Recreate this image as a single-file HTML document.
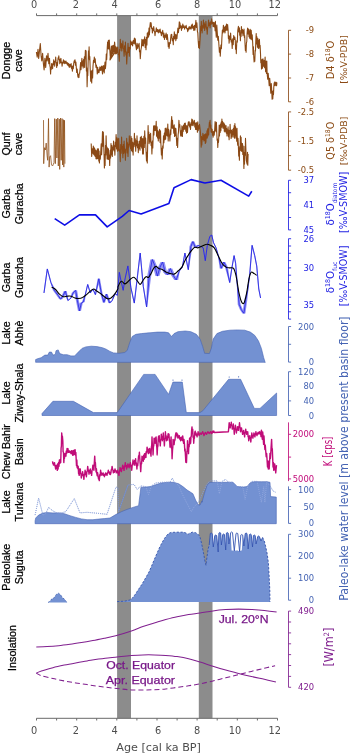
<!DOCTYPE html>
<html lang="en"><head><meta charset="utf-8"><title>Holocene palaeoclimate records</title>
<style>html,body{margin:0;padding:0;background:#fff}svg{display:block}</style></head>
<body>
<svg width="350" height="754" viewBox="0 0 350 754">
<rect width="350" height="754" fill="#fff"/>
<defs><filter id="soft" x="0" y="0" width="350" height="754" filterUnits="userSpaceOnUse"><feGaussianBlur stdDeviation="0.38"/></filter></defs>
<g filter="url(#soft)">
<rect x="117.1" y="16" width="13.9" height="702.3" fill="#8c8c8c"/>
<rect x="198.8" y="16" width="13.7" height="702.3" fill="#8c8c8c"/>
<path d="M36.5,15.6H277.5M36.5,15.6v-2.2M56.6,15.6v-2.2M76.7,15.6v-2.2M96.7,15.6v-2.2M116.8,15.6v-2.2M136.9,15.6v-2.2M157.0,15.6v-2.2M177.1,15.6v-2.2M197.1,15.6v-2.2M217.2,15.6v-2.2M237.3,15.6v-2.2M257.4,15.6v-2.2M277.5,15.6v-2.2" stroke="#6a6a6a" stroke-width="1" fill="none"/>
<text x="34.2" y="8" font-family='"DejaVu Sans","Liberation Sans",sans-serif' font-size="9.8" fill="#4d4d4d" text-anchor="middle">0</text>
<text x="75.9" y="8" font-family='"DejaVu Sans","Liberation Sans",sans-serif' font-size="9.8" fill="#4d4d4d" text-anchor="middle">2</text>
<text x="114.6" y="8" font-family='"DejaVu Sans","Liberation Sans",sans-serif' font-size="9.8" fill="#4d4d4d" text-anchor="middle">4</text>
<text x="158" y="8" font-family='"DejaVu Sans","Liberation Sans",sans-serif' font-size="9.8" fill="#4d4d4d" text-anchor="middle">6</text>
<text x="197" y="8" font-family='"DejaVu Sans","Liberation Sans",sans-serif' font-size="9.8" fill="#4d4d4d" text-anchor="middle">8</text>
<text x="235" y="8" font-family='"DejaVu Sans","Liberation Sans",sans-serif' font-size="9.8" fill="#4d4d4d" text-anchor="middle">10</text>
<text x="274.8" y="8" font-family='"DejaVu Sans","Liberation Sans",sans-serif' font-size="9.8" fill="#4d4d4d" text-anchor="middle">12</text>
<path d="M36.5,718.3H277.5M36.5,718.3v2.2M56.6,718.3v2.2M76.7,718.3v2.2M96.7,718.3v2.2M116.8,718.3v2.2M136.9,718.3v2.2M157.0,718.3v2.2M177.1,718.3v2.2M197.1,718.3v2.2M217.2,718.3v2.2M237.3,718.3v2.2M257.4,718.3v2.2M277.5,718.3v2.2" stroke="#6a6a6a" stroke-width="1" fill="none"/>
<text x="34.2" y="734.0" font-family='"DejaVu Sans","Liberation Sans",sans-serif' font-size="9.8" fill="#4d4d4d" text-anchor="middle">0</text>
<text x="75.9" y="734.0" font-family='"DejaVu Sans","Liberation Sans",sans-serif' font-size="9.8" fill="#4d4d4d" text-anchor="middle">2</text>
<text x="114.6" y="734.0" font-family='"DejaVu Sans","Liberation Sans",sans-serif' font-size="9.8" fill="#4d4d4d" text-anchor="middle">4</text>
<text x="158" y="734.0" font-family='"DejaVu Sans","Liberation Sans",sans-serif' font-size="9.8" fill="#4d4d4d" text-anchor="middle">6</text>
<text x="197" y="734.0" font-family='"DejaVu Sans","Liberation Sans",sans-serif' font-size="9.8" fill="#4d4d4d" text-anchor="middle">8</text>
<text x="235" y="734.0" font-family='"DejaVu Sans","Liberation Sans",sans-serif' font-size="9.8" fill="#4d4d4d" text-anchor="middle">10</text>
<text x="274.8" y="734.0" font-family='"DejaVu Sans","Liberation Sans",sans-serif' font-size="9.8" fill="#4d4d4d" text-anchor="middle">12</text>
<text x="158.6" y="750.9" font-family='"DejaVu Sans","Liberation Sans",sans-serif' font-size="11.2" fill="#4d4d4d" text-anchor="middle">Age [cal ka BP]</text>
<text transform="translate(9.9,60.5) rotate(-90)" font-family='"Liberation Sans","DejaVu Sans",sans-serif' font-size="10.7" fill="#000" stroke="#000" stroke-width="0.25" text-anchor="middle">Dongge</text>
<text transform="translate(21.6,60.5) rotate(-90)" font-family='"Liberation Sans","DejaVu Sans",sans-serif' font-size="10.7" fill="#000" stroke="#000" stroke-width="0.25" text-anchor="middle">cave</text>
<text transform="translate(9.9,144) rotate(-90)" font-family='"Liberation Sans","DejaVu Sans",sans-serif' font-size="10.7" fill="#000" stroke="#000" stroke-width="0.25" text-anchor="middle">Qunf</text>
<text transform="translate(21.6,144) rotate(-90)" font-family='"Liberation Sans","DejaVu Sans",sans-serif' font-size="10.7" fill="#000" stroke="#000" stroke-width="0.25" text-anchor="middle">cave</text>
<text transform="translate(9.6,203.7) rotate(-90)" font-family='"Liberation Sans","DejaVu Sans",sans-serif' font-size="10.7" fill="#000" stroke="#000" stroke-width="0.25" text-anchor="middle">Garba</text>
<text transform="translate(22.6,203.7) rotate(-90)" font-family='"Liberation Sans","DejaVu Sans",sans-serif' font-size="10.7" fill="#000" stroke="#000" stroke-width="0.25" text-anchor="middle">Guracha</text>
<text transform="translate(9.6,277.5) rotate(-90)" font-family='"Liberation Sans","DejaVu Sans",sans-serif' font-size="10.7" fill="#000" stroke="#000" stroke-width="0.25" text-anchor="middle">Garba</text>
<text transform="translate(22.6,277.5) rotate(-90)" font-family='"Liberation Sans","DejaVu Sans",sans-serif' font-size="10.7" fill="#000" stroke="#000" stroke-width="0.25" text-anchor="middle">Guracha</text>
<text transform="translate(9.6,333) rotate(-90)" font-family='"Liberation Sans","DejaVu Sans",sans-serif' font-size="10.7" fill="#000" stroke="#000" stroke-width="0.25" text-anchor="middle">Lake</text>
<text transform="translate(22.6,333) rotate(-90)" font-family='"Liberation Sans","DejaVu Sans",sans-serif' font-size="10.7" fill="#000" stroke="#000" stroke-width="0.25" text-anchor="middle">Abhè</text>
<text transform="translate(9.6,393) rotate(-90)" font-family='"Liberation Sans","DejaVu Sans",sans-serif' font-size="10.7" fill="#000" stroke="#000" stroke-width="0.25" text-anchor="middle">Lake</text>
<text transform="translate(22.6,393) rotate(-90)" font-family='"Liberation Sans","DejaVu Sans",sans-serif' font-size="10.7" fill="#000" stroke="#000" stroke-width="0.25" text-anchor="middle">Ziway-Shala</text>
<text transform="translate(9.6,451.7) rotate(-90)" font-family='"Liberation Sans","DejaVu Sans",sans-serif' font-size="10.7" fill="#000" stroke="#000" stroke-width="0.25" text-anchor="middle">Chew Bahir</text>
<text transform="translate(22.6,451.7) rotate(-90)" font-family='"Liberation Sans","DejaVu Sans",sans-serif' font-size="10.7" fill="#000" stroke="#000" stroke-width="0.25" text-anchor="middle">Basin</text>
<text transform="translate(9.6,502) rotate(-90)" font-family='"Liberation Sans","DejaVu Sans",sans-serif' font-size="10.7" fill="#000" stroke="#000" stroke-width="0.25" text-anchor="middle">Lake</text>
<text transform="translate(22.6,502) rotate(-90)" font-family='"Liberation Sans","DejaVu Sans",sans-serif' font-size="10.7" fill="#000" stroke="#000" stroke-width="0.25" text-anchor="middle">Turkana</text>
<text transform="translate(9.6,567.3) rotate(-90)" font-family='"Liberation Sans","DejaVu Sans",sans-serif' font-size="10.7" fill="#000" stroke="#000" stroke-width="0.25" text-anchor="middle">Paleolake</text>
<text transform="translate(22.6,567.3) rotate(-90)" font-family='"Liberation Sans","DejaVu Sans",sans-serif' font-size="10.7" fill="#000" stroke="#000" stroke-width="0.25" text-anchor="middle">Suguta</text>
<text transform="translate(16.3,648) rotate(-90)" font-family='"Liberation Sans","DejaVu Sans",sans-serif' font-size="10.7" fill="#000" stroke="#000" stroke-width="0.25" text-anchor="middle">Insolation</text>
<path d="M288.5,30.3V101.8M288.5,30.3h2.6M288.5,54.1h2.6M288.5,78.0h2.6M288.5,101.8h2.6" stroke="#8b4a14" stroke-width="0.85" fill="none"/>
<text x="314.1" y="33.4" font-family='"DejaVu Sans","Liberation Sans",sans-serif' font-size="8.4" fill="#8b4a14" text-anchor="end">-9</text>
<text x="314.1" y="57.1" font-family='"DejaVu Sans","Liberation Sans",sans-serif' font-size="8.4" fill="#8b4a14" text-anchor="end">-8</text>
<text x="314.1" y="81.0" font-family='"DejaVu Sans","Liberation Sans",sans-serif' font-size="8.4" fill="#8b4a14" text-anchor="end">-7</text>
<text x="314.1" y="104.8" font-family='"DejaVu Sans","Liberation Sans",sans-serif' font-size="8.4" fill="#8b4a14" text-anchor="end">-6</text>
<path d="M288.5,111.9V170.2M288.5,111.9h2.6M288.5,126.5h2.6M288.5,141.1h2.6M288.5,155.6h2.6M288.5,170.2h2.6" stroke="#8b4a14" stroke-width="0.85" fill="none"/>
<text x="314.1" y="115.0" font-family='"DejaVu Sans","Liberation Sans",sans-serif' font-size="8.4" fill="#8b4a14" text-anchor="end">-2.5</text>
<text x="314.1" y="144.2" font-family='"DejaVu Sans","Liberation Sans",sans-serif' font-size="8.4" fill="#8b4a14" text-anchor="end">-1.5</text>
<text x="314.1" y="173.2" font-family='"DejaVu Sans","Liberation Sans",sans-serif' font-size="8.4" fill="#8b4a14" text-anchor="end">-0.5</text>
<path d="M288.5,180.3V229.9M288.5,180.3h2.6M288.5,192.7h2.6M288.5,205.1h2.6M288.5,217.5h2.6M288.5,229.9h2.6" stroke="#1c1ce2" stroke-width="0.85" fill="none"/>
<text x="314.1" y="183.4" font-family='"DejaVu Sans","Liberation Sans",sans-serif' font-size="8.4" fill="#1c1ce2" text-anchor="end">37</text>
<text x="314.1" y="208.2" font-family='"DejaVu Sans","Liberation Sans",sans-serif' font-size="8.4" fill="#1c1ce2" text-anchor="end">41</text>
<text x="314.1" y="233.0" font-family='"DejaVu Sans","Liberation Sans",sans-serif' font-size="8.4" fill="#1c1ce2" text-anchor="end">45</text>
<path d="M288.5,238.7V319.1M288.5,238.7h2.6M288.5,246.0h2.6M288.5,253.3h2.6M288.5,260.6h2.6M288.5,267.9h2.6M288.5,275.2h2.6M288.5,282.6h2.6M288.5,289.9h2.6M288.5,297.2h2.6M288.5,304.5h2.6M288.5,311.8h2.6M288.5,319.1h2.6" stroke="#1c1ce2" stroke-width="0.85" fill="none"/>
<text x="314.1" y="241.8" font-family='"DejaVu Sans","Liberation Sans",sans-serif' font-size="8.4" fill="#1c1ce2" text-anchor="end">26</text>
<text x="314.1" y="271.1" font-family='"DejaVu Sans","Liberation Sans",sans-serif' font-size="8.4" fill="#1c1ce2" text-anchor="end">30</text>
<text x="314.1" y="307.6" font-family='"DejaVu Sans","Liberation Sans",sans-serif' font-size="8.4" fill="#1c1ce2" text-anchor="end">35</text>
<path d="M288.5,326.5V362.1M288.5,326.5h2.6M288.5,344.3h2.6M288.5,362.1h2.6" stroke="#4463b3" stroke-width="0.85" fill="none"/>
<text x="314.1" y="329.6" font-family='"DejaVu Sans","Liberation Sans",sans-serif' font-size="8.4" fill="#4463b3" text-anchor="end">200</text>
<text x="314.1" y="365.2" font-family='"DejaVu Sans","Liberation Sans",sans-serif' font-size="8.4" fill="#4463b3" text-anchor="end">0</text>
<path d="M288.5,371.7V415.5M288.5,371.7h2.6M288.5,386.3h2.6M288.5,400.9h2.6M288.5,415.5h2.6" stroke="#4463b3" stroke-width="0.85" fill="none"/>
<text x="314.1" y="374.8" font-family='"DejaVu Sans","Liberation Sans",sans-serif' font-size="8.4" fill="#4463b3" text-anchor="end">120</text>
<text x="314.1" y="389.4" font-family='"DejaVu Sans","Liberation Sans",sans-serif' font-size="8.4" fill="#4463b3" text-anchor="end">80</text>
<text x="314.1" y="403.9" font-family='"DejaVu Sans","Liberation Sans",sans-serif' font-size="8.4" fill="#4463b3" text-anchor="end">40</text>
<text x="314.1" y="418.6" font-family='"DejaVu Sans","Liberation Sans",sans-serif' font-size="8.4" fill="#4463b3" text-anchor="end">0</text>
<path d="M288.5,422.4V481.1M288.5,434.3h2.6M288.5,457.1h2.6M288.5,478.9h2.6" stroke="#c00a78" stroke-width="0.85" fill="none"/>
<text x="314.1" y="437.4" font-family='"DejaVu Sans","Liberation Sans",sans-serif' font-size="8.4" fill="#c00a78" text-anchor="end">2000</text>
<text x="314.1" y="481.9" font-family='"DejaVu Sans","Liberation Sans",sans-serif' font-size="8.4" fill="#c00a78" text-anchor="end">5000</text>
<path d="M288.5,486.4V523.4M288.5,489.6h2.6M288.5,506.5h2.6M288.5,523.4h2.6" stroke="#4463b3" stroke-width="0.85" fill="none"/>
<text x="314.1" y="492.7" font-family='"DejaVu Sans","Liberation Sans",sans-serif' font-size="8.4" fill="#4463b3" text-anchor="end">100</text>
<text x="314.1" y="509.6" font-family='"DejaVu Sans","Liberation Sans",sans-serif' font-size="8.4" fill="#4463b3" text-anchor="end">50</text>
<text x="314.1" y="526.4" font-family='"DejaVu Sans","Liberation Sans",sans-serif' font-size="8.4" fill="#4463b3" text-anchor="end">0</text>
<path d="M288.5,534.3V600.2M288.5,534.3h2.6M288.5,556.3h2.6M288.5,578.2h2.6M288.5,600.2h2.6" stroke="#4463b3" stroke-width="0.85" fill="none"/>
<text x="314.1" y="537.3" font-family='"DejaVu Sans","Liberation Sans",sans-serif' font-size="8.4" fill="#4463b3" text-anchor="end">300</text>
<text x="314.1" y="559.3" font-family='"DejaVu Sans","Liberation Sans",sans-serif' font-size="8.4" fill="#4463b3" text-anchor="end">200</text>
<text x="314.1" y="581.2" font-family='"DejaVu Sans","Liberation Sans",sans-serif' font-size="8.4" fill="#4463b3" text-anchor="end">100</text>
<text x="314.1" y="603.2" font-family='"DejaVu Sans","Liberation Sans",sans-serif' font-size="8.4" fill="#4463b3" text-anchor="end">0</text>
<path d="M288.5,611.1V687.3M288.5,611.1h2.6M288.5,622.0h2.6M288.5,632.9h2.6M288.5,643.8h2.6M288.5,654.6h2.6M288.5,665.5h2.6M288.5,676.4h2.6M288.5,687.3h2.6" stroke="#80208f" stroke-width="0.85" fill="none"/>
<text x="314.1" y="614.1" font-family='"DejaVu Sans","Liberation Sans",sans-serif' font-size="8.4" fill="#80208f" text-anchor="end">490</text>
<text x="314.1" y="690.3" font-family='"DejaVu Sans","Liberation Sans",sans-serif' font-size="8.4" fill="#80208f" text-anchor="end">420</text>
<text transform="translate(334.3,79.2) rotate(-90) scale(0.9198,1)" font-family='"DejaVu Sans","Liberation Sans",sans-serif' font-size="10.7" fill="#8b4a14"><tspan font-size="10.70" dy="0.00">D4 δ</tspan><tspan font-size="6.63" dy="-4.70">18</tspan><tspan font-size="10.70" dy="4.70">O</tspan></text>
<text transform="translate(346.6,83.8) rotate(-90) scale(1.0026,1)" font-family='"DejaVu Sans","Liberation Sans",sans-serif' font-size="9.4" fill="#8b4a14"><tspan font-size="9.40" dy="0.00">[‰V-PDB]</tspan></text>
<text transform="translate(334.3,159.7) rotate(-90) scale(0.9039,1)" font-family='"DejaVu Sans","Liberation Sans",sans-serif' font-size="10.7" fill="#8b4a14"><tspan font-size="10.70" dy="0.00">Q5 δ</tspan><tspan font-size="6.63" dy="-4.70">18</tspan><tspan font-size="10.70" dy="4.70">O</tspan></text>
<text transform="translate(346.6,165.3) rotate(-90) scale(1.0026,1)" font-family='"DejaVu Sans","Liberation Sans",sans-serif' font-size="9.4" fill="#8b4a14"><tspan font-size="9.40" dy="0.00">[‰V-PDB]</tspan></text>
<text transform="translate(334.3,225.5) rotate(-90) scale(0.9457,1)" font-family='"DejaVu Sans","Liberation Sans",sans-serif' font-size="10.7" fill="#1c1ce2"><tspan font-size="10.70" dy="0.00">δ</tspan><tspan font-size="6.63" dy="-4.70">18</tspan><tspan font-size="10.70" dy="4.70">O</tspan><tspan font-size="6.21" dy="2.40">diatom</tspan></text>
<text transform="translate(347.3,232.9) rotate(-90) scale(0.9402,1)" font-family='"DejaVu Sans","Liberation Sans",sans-serif' font-size="10.2" fill="#1c1ce2"><tspan font-size="10.20" dy="0.00">[‰V-SMOW]</tspan></text>
<text transform="translate(334.3,293.3) rotate(-90) scale(0.9563,1)" font-family='"DejaVu Sans","Liberation Sans",sans-serif' font-size="10.7" fill="#1c1ce2"><tspan font-size="10.70" dy="0.00">δ</tspan><tspan font-size="6.63" dy="-4.70">18</tspan><tspan font-size="10.70" dy="4.70">O</tspan><tspan font-size="6.21" dy="2.40">fuc</tspan></text>
<text transform="translate(347.3,306.3) rotate(-90) scale(0.9325,1)" font-family='"DejaVu Sans","Liberation Sans",sans-serif' font-size="10.2" fill="#1c1ce2"><tspan font-size="10.20" dy="0.00">[‰V-SMOW]</tspan></text>
<text transform="translate(348.4,600.8) rotate(-90) scale(0.9483,1)" font-family='"DejaVu Sans","Liberation Sans",sans-serif' font-size="11.5" fill="#4463b3"><tspan font-size="11.50" dy="0.00">Paleo-lake water level [m above present basin floor]</tspan></text>
<text transform="translate(331.5,466.2) rotate(-90) scale(0.6707,1)" font-family='"DejaVu Sans","Liberation Sans",sans-serif' font-size="12.8" fill="#c00a78"><tspan font-size="12.80" dy="0.00">K [cps]</tspan></text>
<text transform="translate(333.3,666.6) rotate(-90) scale(0.9512,1)" font-family='"DejaVu Sans","Liberation Sans",sans-serif' font-size="11.8" fill="#80208f"><tspan font-size="11.80" dy="0.00">[W/m</tspan><tspan font-size="7.32" dy="-4.60">2</tspan><tspan font-size="11.80" dy="4.60">]</tspan></text>
<path d="M36.4,52.0 L37.2,57.1 L38.0,49.4 L38.7,58.4 L39.5,50.7 L40.3,43.5 L41.1,55.9 L41.8,61.0 L42.6,53.3 L43.4,63.6 L44.1,70.0 L44.9,58.4 L45.7,67.4 L46.5,55.9 L47.2,61.0 L48.0,53.3 L48.8,63.6 L49.5,58.4 L49.9,66.0 L50.2,66.9 L50.6,73.9 L50.9,67.5 L51.3,69.5 L51.6,63.6 L52.0,67.7 L52.3,64.8 L52.6,68.7 L53.0,63.1 L53.3,65.0 L53.7,59.7 L54.0,64.7 L54.4,61.4 L54.7,66.1 L55.1,61.5 L55.4,61.5 L55.7,57.1 L56.1,61.9 L56.4,63.1 L56.7,67.4 L57.1,62.6 L57.4,65.6 L57.8,61.0 L58.1,57.8 L58.5,58.9 L58.8,55.9 L59.2,59.9 L59.5,59.8 L59.8,63.6 L60.2,59.4 L60.5,62.4 L60.9,58.4 L61.3,62.7 L61.7,62.2 L62.1,66.1 L62.6,62.1 L63.0,63.5 L63.4,59.7 L63.9,62.6 L64.3,60.8 L64.7,63.6 L65.2,61.3 L65.6,63.1 L66.0,61.0 L66.5,63.5 L66.9,62.5 L67.3,64.9 L67.7,62.8 L68.2,65.5 L68.6,63.6 L69.0,66.9 L69.4,64.2 L69.9,67.4 L70.3,64.6 L70.7,66.3 L71.1,63.6 L71.6,68.6 L72.0,66.5 L72.4,71.3 L72.9,65.8 L73.3,68.7 L73.7,63.6 L74.2,60.8 L74.6,62.4 L75.0,59.7 L75.5,65.3 L75.9,62.1 L76.3,67.4 L76.7,72.4 L77.2,69.1 L77.6,73.9 L78.0,77.2 L78.4,74.5 L78.9,77.7 L79.3,73.0 L79.7,73.1 L80.1,68.7 L80.6,62.5 L81.0,69.6 L81.4,63.6 L81.9,58.4 L82.3,66.0 L82.7,61.0 L83.2,68.0 L83.6,59.3 L84.0,66.1 L84.4,56.7 L84.7,67.5 L85.0,58.4 L85.4,50.2 L85.7,58.7 L86.1,50.7 L86.4,70.9 L86.8,67.9 L87.1,86.7 L87.5,73.6 L87.8,75.8 L88.1,63.6 L88.5,50.8 L88.8,59.0 L89.1,46.9 L89.5,59.8 L89.8,56.6 L90.2,68.7 L90.7,81.2 L91.2,71.0 L91.7,82.9 L92.2,70.3 L92.6,78.0 L93.0,66.1 L93.5,60.3 L93.9,62.6 L94.3,57.1 L94.7,62.2 L95.2,58.8 L95.6,63.6 L96.0,67.5 L96.4,65.0 L96.9,68.7 L97.3,74.0 L97.7,67.4 L98.1,72.6 L98.6,69.9 L99.0,72.6 L99.4,70.0 L99.9,66.9 L100.3,70.4 L100.7,67.4 L101.2,70.1 L101.6,66.1 L102.0,68.7 L102.5,74.0 L102.9,66.1 L103.3,71.3 L103.7,65.6 L104.2,73.0 L104.6,67.4 L105.0,62.1 L105.4,68.7 L105.9,63.6 L106.3,54.1 L106.7,59.6 L107.1,50.7 L107.6,42.1 L108.0,48.6 L108.4,40.4 L108.9,48.9 L109.3,40.0 L109.7,48.1 L110.2,55.9 L110.6,51.1 L111.0,58.4 L111.5,51.6 L111.9,57.2 L112.3,50.7 L112.7,45.7 L113.2,50.4 L113.6,45.6 L114.0,51.9 L114.4,47.2 L114.9,53.3 L115.3,50.0 L115.7,53.9 L116.1,50.7 L110.0,60.0 L110.4,55.2 L110.7,55.4 L111.0,51.0 L111.4,46.2 L111.7,50.4 L112.1,45.9 L112.4,52.2 L112.8,47.5 L113.1,53.6 L113.6,45.3 L114.1,49.8 L114.6,42.0 L115.3,49.3 L115.9,46.7 L116.4,53.6 L116.9,47.8 L117.3,52.6 L117.7,47.1 L118.3,54.5 L118.8,54.5 L119.3,61.3 L119.6,49.3 L120.0,50.5 L120.3,39.4 L120.8,47.6 L121.3,43.3 L121.8,51.0 L122.2,44.3 L122.5,47.0 L122.9,40.7 L123.3,48.6 L123.7,48.9 L124.1,56.1 L124.6,45.9 L125.0,51.7 L125.4,42.0 L125.9,55.0 L126.3,51.8 L126.7,63.9 L127.2,54.2 L127.6,52.2 L128.0,43.3 L128.5,52.5 L128.9,47.5 L129.3,56.1 L129.7,47.4 L130.2,48.9 L130.6,40.7 L131.3,44.8 L132.0,41.9 L132.6,45.9 L133.3,40.2 L133.9,43.5 L134.4,38.1 L134.9,44.0 L135.3,38.9 L135.7,44.6 L136.5,49.8 L137.1,43.4 L137.8,48.4 L138.2,45.0 L138.6,46.5 L139.1,43.3 L139.5,51.8 L139.9,50.8 L140.3,58.7 L140.9,49.9 L141.4,47.5 L141.9,39.4 L142.4,45.6 L142.9,40.0 L143.4,45.9 L143.9,39.3 L144.3,43.1 L144.7,36.9 L145.2,47.5 L145.6,39.5 L146.0,49.7 L146.5,37.2 L146.9,44.9 L147.3,33.0 L147.7,38.0 L148.2,32.0 L148.6,36.9 L149.0,28.0 L149.4,35.0 L149.9,26.6 L150.3,22.5 L150.7,26.6 L151.1,22.7 L151.6,28.4 L152.0,27.7 L152.4,33.0 L152.9,28.6 L153.3,30.7 L153.7,26.6 L154.2,31.0 L154.6,31.5 L155.0,35.6 L155.5,31.5 L155.9,31.6 L156.3,27.9 L157.0,31.6 L157.7,29.4 L158.3,33.0 L159.0,29.8 L159.6,32.2 L160.1,29.1 L160.6,32.9 L161.0,32.1 L161.4,35.6 L161.9,32.2 L162.3,33.6 L162.7,30.4 L163.4,37.2 L163.9,33.0 L164.5,39.4 L165.1,35.1 L165.6,37.1 L166.1,33.0 L166.7,39.4 L167.3,34.6 L167.9,40.7 L168.3,46.8 L168.7,42.7 L169.1,48.4 L169.7,42.5 L170.2,43.6 L170.7,38.1 L171.1,34.5 L171.4,37.8 L171.7,34.3 L172.3,40.7 L172.8,38.5 L173.3,44.6 L173.6,36.2 L174.0,39.6 L174.3,31.7 L174.8,38.5 L175.3,34.2 L175.8,40.7 L176.4,34.8 L176.9,38.6 L177.4,33.0 L177.9,28.0 L178.4,32.7 L178.9,27.9 L179.3,21.9 L179.6,28.5 L179.9,22.7 L180.5,27.7 L181.0,25.7 L181.5,30.4 L181.9,26.0 L182.4,28.1 L182.8,24.0 L183.4,27.5 L184.0,25.8 L184.6,29.1 L185.1,26.8 L185.6,27.5 L186.1,25.3 L186.7,28.7 L187.2,28.5 L187.7,31.7 L188.2,28.1 L188.7,30.0 L189.2,26.6 L189.8,28.8 L190.4,27.0 L191.0,29.1 L191.5,25.0 L191.9,27.9 L192.3,24.0 L192.8,28.3 L193.3,26.4 L193.8,30.4 L194.4,25.4 L194.9,30.1 L195.4,25.3 L195.9,20.4 L196.4,27.5 L196.9,22.7 L197.4,31.3 L197.8,32.9 L198.2,40.7 L198.7,47.8 L199.1,41.6 L199.5,48.4 L200.3,35.6 L200.7,26.0 L201.0,30.4 L201.3,21.4 L202.1,33.0 L202.5,25.9 L203.0,26.8 L203.4,20.1 L203.8,28.1 L204.2,22.9 L204.7,30.4 L205.1,24.5 L205.5,27.0 L205.9,21.4 L206.4,28.9 L206.8,27.3 L207.2,34.3 L207.7,27.1 L208.1,26.8 L208.5,20.1 L209.1,25.5 L209.6,22.8 L210.1,27.9 L210.6,21.8 L211.1,24.5 L211.6,18.9 L212.2,23.5 L212.6,22.3 L213.1,26.6 L213.7,22.3 L214.2,26.9 L214.7,22.7 L215.1,30.7 L215.4,21.4 L215.7,29.1 L216.3,37.2 L216.8,25.1 L217.3,33.0 L217.8,40.3 L218.3,36.4 L218.8,43.3 L219.4,52.1 L219.8,47.8 L220.3,56.1 L220.9,45.0 L221.4,48.6 L221.9,38.1 L222.4,30.0 L222.9,32.9 L223.4,25.3 L224.0,31.6 L224.5,27.0 L225.0,33.0 L225.5,26.1 L226.0,30.5 L226.5,24.0 L227.1,30.1 L227.6,24.6 L228.1,30.4 L228.4,38.6 L228.8,35.6 L229.1,43.3 L229.6,36.2 L230.1,39.7 L230.6,33.0 L231.2,42.0 L231.7,40.1 L232.2,48.4 L232.7,38.8 L233.2,44.7 L233.7,35.6 L234.3,39.5 L234.8,37.0 L235.3,40.7 L235.6,49.3 L236.0,45.5 L236.3,53.6 L236.8,40.8 L237.3,42.3 L237.8,30.4 L238.4,26.3 L238.9,31.9 L239.4,27.9 L239.7,35.2 L240.1,33.9 L240.4,40.7 L240.8,30.4 L241.1,36.4 L241.4,26.6 L242.0,33.0 L242.5,29.5 L243.0,35.6 L243.3,30.7 L243.7,33.7 L244.0,29.1 L244.4,37.5 L244.7,35.5 L245.0,43.3 L245.4,50.5 L245.7,45.5 L246.1,52.3 L246.4,43.1 L246.8,41.4 L247.1,33.0 L247.6,28.1 L248.1,33.9 L248.6,29.1 L249.0,36.7 L249.3,31.0 L249.7,38.1 L250.2,29.3 L250.7,39.0 L251.2,30.4 L251.8,39.6 L252.2,34.7 L252.7,43.3 L253.1,54.5 L253.4,46.8 L253.8,57.4 L254.1,62.0 L254.5,56.9 L254.8,61.3 L255.2,50.3 L255.5,50.9 L255.8,40.7 L256.2,33.5 L256.5,43.9 L256.9,36.9 L257.4,47.1 L257.9,38.6 L258.4,48.4 L258.8,40.5 L259.1,47.0 L259.4,39.4 L259.8,48.3 L260.1,45.3 L260.5,53.6 L260.8,62.8 L261.2,60.4 L261.5,69.0 L262.0,59.2 L262.5,68.1 L263.0,58.7 L263.6,66.2 L264.1,60.6 L264.6,67.7 L265.1,57.1 L265.6,71.7 L266.1,61.3 L266.5,73.5 L266.8,61.1 L267.1,72.9 L267.7,79.2 L268.2,73.2 L268.7,79.3 L269.2,85.6 L269.7,78.3 L270.2,84.4 L270.8,93.3 L271.3,83.6 L271.8,92.1 L272.1,99.3 L272.5,91.6 L272.8,98.6 L273.2,90.5 L273.5,94.6 L273.8,87.0 L274.2,82.9 L274.5,85.7 L274.9,81.9 L275.2,84.9 L275.6,82.8 L275.9,85.7 L276.3,82.4 L276.6,85.6 L276.9,82.4" stroke="#8b4a14" stroke-width="1.1" fill="none" stroke-linejoin="round"/>
<path d="M43.5,120.1 L43.7,163.7 L44.6,147.7 L45.4,150.0 L46.2,143.1 L47.1,155.7 L47.7,160.3 L48.5,118.6 L49.1,167.1 L49.7,156.9 L50.6,155.7 L51.5,164.9 L52.6,166.0 L54.0,162.6 L54.7,118.6 L55.3,163.7 L56.3,119.1 L56.9,158.0 L57.8,118.0 L58.3,166.0 L59.3,119.1 L59.7,169.4 L60.6,118.0 L61.2,160.3 L62.1,118.6 L62.6,164.9 L63.4,119.7 L63.8,167.1 L64.5,120.3 L64.9,163.7" stroke="#8b4a14" stroke-width="0.75" fill="none" stroke-linejoin="round"/>
<path d="M91.2,143.6 L91.7,156.4 L92.3,148.9 L92.8,153.2 L93.3,146.1 L93.6,154.3 L94.0,147.3 L94.3,155.1 L94.7,148.5 L95.2,156.5 L95.6,150.0 L96.0,158.6 L96.4,150.8 L96.9,159.0 L97.4,148.9 L97.9,158.4 L98.4,148.7 L98.8,161.1 L99.1,151.0 L99.4,162.9 L99.9,155.7 L100.3,159.3 L100.7,152.6 L101.2,143.8 L101.6,154.7 L102.0,146.1 L102.5,131.5 L102.9,146.1 L103.3,132.0 L104.1,156.4 L104.4,167.9 L104.8,154.3 L105.1,165.4 L105.5,145.2 L105.8,154.9 L106.1,135.9 L106.5,148.9 L106.8,146.9 L107.1,159.0 L107.6,148.1 L108.0,159.2 L108.4,148.7 L108.9,159.5 L109.3,155.3 L109.7,165.4 L110.2,150.2 L110.6,157.9 L111.0,143.6 L111.5,154.9 L111.9,145.6 L112.3,156.4 L112.7,147.4 L113.2,149.4 L113.6,141.0 L114.0,150.8 L114.4,145.9 L114.9,155.1 L115.3,142.3 L115.7,146.6 L116.1,134.6 L116.6,148.9 L117.0,137.7 L117.4,151.3 L117.9,139.1 L118.3,150.1 L118.7,138.4 L119.3,151.2 L119.8,149.7 L120.3,161.6 L120.7,144.5 L121.2,153.2 L121.6,137.1 L122.0,149.0 L122.4,146.6 L122.9,157.7 L123.3,144.5 L123.7,153.5 L124.1,141.0 L124.6,152.3 L125.0,149.8 L125.4,160.3 L125.9,148.8 L126.3,149.0 L126.7,138.4 L127.2,152.9 L127.6,142.7 L128.0,156.4 L128.5,144.4 L128.9,147.1 L129.3,135.9 L129.7,144.9 L130.2,140.2 L130.6,148.7 L131.0,136.2 L131.4,150.6 L131.9,138.4 L132.3,151.8 L132.7,142.4 L133.1,155.1 L133.6,142.8 L134.0,144.7 L134.4,133.3 L134.9,146.6 L135.3,138.7 L135.7,151.3 L136.2,140.9 L136.6,145.7 L137.0,135.9 L137.5,147.7 L137.9,141.4 L138.3,152.6 L138.7,144.3 L139.2,148.8 L139.6,141.0 L140.0,150.2 L140.4,137.2 L140.9,146.1 L141.3,136.4 L141.7,147.9 L142.1,138.4 L142.6,154.0 L143.0,138.9 L143.4,153.9 L143.9,136.3 L144.3,147.4 L144.7,130.7 L145.2,143.3 L145.6,138.1 L146.0,150.0 L146.5,161.0 L146.9,152.4 L147.3,162.9 L148.1,125.6 L148.4,137.7 L148.8,132.1 L149.1,143.6 L149.6,134.5 L150.1,142.0 L150.6,133.3 L151.1,145.6 L151.5,142.3 L151.9,153.9 L152.4,141.0 L152.8,148.0 L153.2,135.9 L153.6,126.0 L153.9,135.0 L154.2,125.6 L154.8,130.5 L155.3,126.0 L155.8,130.7 L156.2,121.2 L156.6,136.2 L157.1,126.9 L157.5,137.9 L157.9,130.5 L158.3,141.0 L158.8,131.8 L159.2,138.2 L159.6,129.4 L160.1,142.6 L160.5,130.9 L160.9,143.6 L161.4,154.9 L161.8,148.3 L162.2,159.0 L162.7,145.7 L163.1,148.3 L163.5,135.9 L163.9,142.7 L164.4,133.0 L164.8,139.7 L165.2,128.3 L165.6,139.1 L166.1,128.1 L166.5,135.1 L166.9,129.3 L167.3,135.9 L167.8,124.1 L168.2,140.9 L168.6,129.4 L169.1,136.0 L169.5,134.9 L169.9,141.0 L170.4,130.0 L170.8,134.6 L171.2,124.3 L171.7,116.5 L172.1,128.1 L172.5,120.4 L172.9,128.2 L173.4,126.1 L173.8,133.3 L174.2,124.7 L174.6,136.5 L175.1,128.1 L175.5,135.7 L175.9,128.6 L176.3,135.9 L176.8,145.4 L177.2,138.3 L177.6,147.4 L178.1,134.9 L178.5,131.8 L178.9,120.4 L179.4,126.9 L179.8,124.6 L180.2,130.7 L180.7,135.9 L181.1,130.8 L181.5,135.9 L181.9,125.9 L182.4,136.5 L182.8,126.9 L183.2,131.4 L183.6,125.0 L184.1,129.4 L184.5,123.3 L184.9,128.9 L185.3,123.0 L185.8,131.2 L186.2,125.5 L186.6,133.3 L187.1,126.1 L187.5,132.5 L187.9,125.6 L188.4,121.8 L188.8,125.3 L189.2,121.7 L189.7,127.0 L190.1,124.5 L190.5,129.4 L190.9,122.9 L191.4,125.3 L191.8,119.1 L192.2,125.1 L192.6,119.9 L193.1,125.6 L193.5,122.1 L193.9,123.7 L194.3,120.4 L194.8,127.0 L195.2,123.3 L195.6,129.4 L196.1,122.6 L196.5,129.5 L196.9,123.0 L197.4,132.3 L197.8,121.7 L198.2,130.7 L198.7,125.7 L199.1,129.0 L199.5,124.3 L200.3,130.7 L200.8,138.4 L201.2,147.1 L201.5,136.5 L201.8,144.9 L202.2,138.2 L202.5,139.5 L202.9,133.3 L203.2,139.4 L203.6,135.2 L203.9,141.0 L204.3,134.9 L204.6,140.4 L204.9,134.6 L205.3,143.5 L205.6,133.7 L205.9,142.3 L206.3,134.3 L206.6,138.2 L207.0,130.7 L207.3,137.9 L207.7,128.8 L208.0,135.9 L208.4,128.9 L208.7,134.8 L209.0,128.1 L209.4,122.3 L209.7,125.9 L210.1,120.4 L210.4,127.9 L210.8,125.0 L211.1,132.0 L211.5,128.8 L211.8,132.5 L212.1,129.4 L212.5,135.1 L212.8,131.8 L213.1,137.1 L213.7,131.2 L214.2,135.1 L214.7,129.4 L215.1,121.5 L215.4,130.6 L215.7,123.0 L216.1,131.8 L216.4,122.2 L216.7,130.7 L217.1,140.2 L217.4,138.7 L217.8,147.4 L218.1,140.3 L218.5,142.5 L218.8,135.9 L219.2,125.1 L219.5,135.9 L219.8,125.6 L220.2,132.5 L220.5,124.0 L220.9,130.7 L221.2,122.1 L221.6,127.3 L221.9,119.1 L222.3,126.2 L222.6,121.5 L222.9,128.1 L223.3,122.7 L223.6,128.2 L223.9,123.0 L224.3,131.1 L224.6,124.3 L225.0,132.0 L225.3,126.0 L225.7,131.3 L226.0,125.6 L226.4,133.2 L226.7,128.6 L227.0,135.9 L227.4,130.4 L227.7,131.9 L228.1,126.9 L228.4,136.7 L228.8,130.3 L229.1,139.7 L229.5,132.0 L229.8,131.3 L230.1,124.3 L230.5,133.1 L230.8,130.2 L231.1,138.4 L231.5,130.6 L231.8,136.9 L232.2,129.4 L232.5,134.7 L232.9,132.1 L233.2,137.1 L233.6,128.1 L233.9,134.2 L234.2,125.6 L234.6,138.3 L234.9,123.5 L235.3,135.9 L235.6,126.9 L236.0,138.1 L236.3,129.4 L236.7,141.3 L237.0,128.2 L237.3,139.7 L237.7,145.2 L238.0,138.3 L238.3,143.6 L238.7,156.1 L239.0,148.4 L239.4,160.3 L239.7,146.6 L240.1,148.6 L240.4,135.9 L240.8,150.5 L241.1,137.2 L241.4,151.3 L241.8,143.3 L242.1,151.3 L242.5,143.6 L242.8,154.5 L243.2,146.0 L243.5,156.4 L243.9,168.4 L244.2,152.5 L244.5,164.1 L244.9,146.4 L245.2,155.2 L245.5,138.4 L246.3,160.3 L247.1,164.1 L247.5,152.3 L247.8,165.3 L248.1,153.9" stroke="#8b4a14" stroke-width="1.1" fill="none" stroke-linejoin="round"/>
<path d="M54.7,218.7 L64.7,225.2 L79.4,214.9 L95.5,214.9 L107.2,226.9 L122.3,216.3 L129.1,210.5 L141.1,213.9 L168.9,203.6 L174.0,187.8 L191.1,179.6 L204.9,183.0 L221.0,180.3 L248.7,196.1 L251.8,191.3" stroke="#1010e6" stroke-width="1.6" fill="none" stroke-linejoin="round"/>
<path d="M43.4,292.9 L46.8,268.9 L47.9,268.9 L44.5,292.9ZM47.9,268.9 L51.5,282.6 L50.4,282.6 L46.8,268.9ZM51.5,282.6 L55.8,290.3 L52.8,290.3 L50.4,282.6ZM55.8,290.3 L59.6,295.4 L56.6,295.4 L52.8,290.3ZM59.6,295.4 L62.2,299.3 L59.2,299.3 L56.6,295.4ZM59.2,299.3 L61.8,295.4 L64.8,295.4 L62.2,299.3ZM61.8,295.4 L63.8,291.1 L66.8,291.1 L64.8,295.4ZM66.8,291.1 L68.5,300.6 L67.4,300.6 L63.8,291.1ZM67.4,300.6 L70.4,298.0 L71.5,298.0 L68.5,300.6ZM70.4,298.0 L71.6,292.9 L74.6,292.9 L71.5,298.0ZM71.6,292.9 L74.1,290.3 L77.1,290.3 L74.6,292.9ZM77.1,290.3 L78.9,300.6 L75.9,300.6 L74.1,290.3ZM78.9,300.6 L81.0,310.9 L78.0,310.9 L75.9,300.6ZM78.0,310.9 L79.8,303.1 L82.8,303.1 L81.0,310.9ZM79.8,303.1 L81.8,301.9 L84.8,301.9 L82.8,303.1ZM81.8,301.9 L84.6,295.4 L85.7,295.4 L84.8,301.9ZM84.6,295.4 L87.2,284.4 L88.3,284.4 L85.7,295.4ZM88.3,284.4 L90.8,292.9 L89.7,292.9 L87.2,284.4ZM89.7,292.9 L92.3,289.0 L93.4,289.0 L90.8,292.9ZM93.4,289.0 L96.0,294.7 L94.9,294.7 L92.3,289.0ZM94.9,294.7 L97.6,278.7 L100.0,278.7 L96.0,294.7ZM100.0,278.7 L102.5,292.9 L100.1,292.9 L97.6,278.7ZM102.5,292.9 L105.1,302.4 L102.7,302.4 L100.1,292.9ZM102.7,302.4 L105.3,294.1 L107.7,294.1 L105.1,302.4ZM107.7,294.1 L110.8,303.1 L108.4,303.1 L105.3,294.1ZM108.4,303.1 L111.6,300.6 L112.7,300.6 L110.8,303.1ZM111.6,300.6 L114.7,293.6 L115.8,293.6 L112.7,300.6ZM115.8,293.6 L117.8,295.4 L116.7,295.4 L114.7,293.6ZM116.7,295.4 L118.8,272.3 L119.9,272.3 L117.8,295.4ZM119.9,272.3 L121.7,281.3 L120.6,281.3 L118.8,272.3ZM121.7,281.3 L123.7,290.3 L122.6,290.3 L120.6,281.3ZM122.6,290.3 L124.2,280.0 L125.3,280.0 L123.7,290.3ZM124.2,280.0 L127.3,265.9 L128.4,265.9 L125.3,280.0ZM128.4,265.9 L131.5,287.7 L130.4,287.7 L127.3,265.9ZM131.5,287.7 L134.8,303.1 L133.7,303.1 L130.4,287.7ZM133.7,303.1 L136.3,281.3 L137.4,281.3 L134.8,303.1ZM136.3,281.3 L139.6,253.0 L140.7,253.0 L137.4,281.3ZM140.7,253.0 L143.8,286.4 L142.7,286.4 L139.6,253.0ZM143.8,286.4 L147.2,307.0 L146.1,307.0 L142.7,286.4ZM146.1,307.0 L147.2,276.1 L151.2,276.1 L147.2,307.0ZM147.2,276.1 L150.3,259.4 L154.3,259.4 L151.2,276.1ZM154.3,259.4 L156.9,265.9 L152.9,265.9 L150.3,259.4ZM156.9,265.9 L159.4,276.1 L155.4,276.1 L152.9,265.9ZM155.4,276.1 L158.0,267.1 L162.0,267.1 L159.4,276.1ZM158.0,267.1 L160.6,262.0 L164.6,262.0 L162.0,267.1ZM164.6,262.0 L167.1,272.3 L163.1,272.3 L160.6,262.0ZM167.1,272.3 L169.7,274.9 L165.7,274.9 L163.1,272.3ZM165.7,274.9 L168.3,268.4 L172.3,268.4 L169.7,274.9ZM172.3,268.4 L174.9,274.9 L170.9,274.9 L168.3,268.4ZM174.9,274.9 L178.2,280.0 L174.2,280.0 L170.9,274.9ZM174.2,280.0 L178.7,271.0 L179.8,271.0 L178.2,280.0ZM178.7,271.0 L181.8,267.1 L182.9,267.1 L179.8,271.0ZM181.8,267.1 L184.4,253.0 L185.5,253.0 L182.9,267.1ZM185.5,253.0 L188.8,269.7 L187.7,269.7 L184.4,253.0ZM187.7,269.7 L189.4,246.6 L192.4,246.6 L188.8,269.7ZM189.4,246.6 L191.4,241.4 L194.4,241.4 L192.4,246.6ZM194.4,241.4 L197.0,247.9 L194.0,247.9 L191.4,241.4ZM194.0,247.9 L196.3,245.3 L199.3,245.3 L197.0,247.9ZM199.3,245.3 L201.7,246.6 L200.6,246.6 L196.3,245.3ZM201.7,246.6 L203.7,247.9 L202.6,247.9 L200.6,246.6ZM203.7,247.9 L205.8,260.7 L204.7,260.7 L202.6,247.9ZM204.7,260.7 L206.8,245.3 L207.9,245.3 L205.8,260.7ZM206.8,245.3 L209.4,236.3 L210.5,236.3 L207.9,245.3ZM209.4,236.3 L211.2,235.0 L212.3,235.0 L210.5,236.3ZM212.3,235.0 L214.1,242.7 L213.0,242.7 L211.2,235.0ZM214.1,242.7 L216.6,247.9 L215.5,247.9 L213.0,242.7ZM216.6,247.9 L219.2,256.9 L218.1,256.9 L215.5,247.9ZM219.2,256.9 L222.7,268.4 L219.7,268.4 L218.1,256.9ZM219.7,268.4 L222.3,262.0 L225.3,262.0 L222.7,268.4ZM225.3,262.0 L227.9,267.1 L224.9,267.1 L222.3,262.0ZM227.9,267.1 L230.3,282.6 L229.2,282.6 L224.9,267.1ZM229.2,282.6 L231.2,268.4 L232.3,268.4 L230.3,282.6ZM231.2,268.4 L233.5,255.6 L234.6,255.6 L232.3,268.4ZM234.6,255.6 L236.2,263.3 L235.1,263.3 L233.5,255.6ZM236.2,263.3 L238.0,286.4 L236.9,286.4 L235.1,263.3ZM238.0,286.4 L240.7,304.4 L237.7,304.4 L236.9,286.4ZM240.7,304.4 L242.8,309.6 L239.8,309.6 L237.7,304.4ZM242.8,309.6 L245.4,313.4 L242.4,313.4 L239.8,309.6ZM242.4,313.4 L244.4,299.3 L247.4,299.3 L245.4,313.4ZM244.4,299.3 L247.2,290.3 L248.3,290.3 L247.4,299.3ZM247.2,290.3 L249.2,273.6 L250.3,273.6 L248.3,290.3ZM249.2,273.6 L251.5,245.3 L252.6,245.3 L250.3,273.6ZM252.6,245.3 L255.2,255.6 L254.1,255.6 L251.5,245.3ZM255.2,255.6 L257.3,265.9 L256.2,265.9 L254.1,255.6ZM257.3,265.9 L259.3,289.0 L258.2,289.0 L256.2,265.9ZM259.3,289.0 L261.1,298.0 L260.0,298.0 L258.2,289.0Z" fill="#6464ee" fill-opacity="0.72" stroke="none" fill-rule="nonzero"/>
<path d="M44.0,292.9 L47.3,268.9 L50.9,282.6 L54.3,290.3 L58.1,295.4 L60.7,299.3 L63.3,295.4 L65.3,291.1 L67.9,300.6 L71.0,298.0 L73.1,292.9 L75.6,290.3 L77.4,300.6 L79.5,310.9 L81.3,303.1 L83.3,301.9 L85.1,295.4 L87.7,284.4 L90.3,292.9 L92.9,289.0 L95.4,294.7 L98.8,278.7 L101.3,292.9 L103.9,302.4 L106.5,294.1 L109.6,303.1 L112.1,300.6 L115.2,293.6 L117.3,295.4 L119.3,272.3 L121.1,281.3 L123.2,290.3 L124.8,280.0 L127.9,265.9 L130.9,287.7 L134.3,303.1 L136.9,281.3 L140.2,253.0 L143.3,286.4 L146.6,307.0 L149.2,276.1 L152.3,259.4 L154.9,265.9 L157.4,276.1 L160.0,267.1 L162.6,262.0 L165.1,272.3 L167.7,274.9 L170.3,268.4 L172.9,274.9 L176.2,280.0 L179.3,271.0 L182.4,267.1 L184.9,253.0 L188.3,269.7 L190.9,246.6 L192.9,241.4 L195.5,247.9 L197.8,245.3 L201.1,246.6 L203.2,247.9 L205.3,260.7 L207.3,245.3 L209.9,236.3 L211.7,235.0 L213.5,242.7 L216.1,247.9 L218.7,256.9 L221.2,268.4 L223.8,262.0 L226.4,267.1 L229.7,282.6 L231.8,268.4 L234.1,255.6 L235.6,263.3 L237.4,286.4 L239.2,304.4 L241.3,309.6 L243.9,313.4 L245.9,299.3 L247.7,290.3 L249.8,273.6 L252.1,245.3 L254.7,255.6 L256.7,265.9 L258.8,289.0 L260.6,298.0" stroke="#2222e2" stroke-width="0.8" fill="none" stroke-linejoin="round"/>
<path d="M51.7,287.2 C52.4,287.6 54.3,288.4 55.6,289.5 C56.9,290.7 58.1,292.9 59.4,294.1 C60.7,295.3 62.0,296.4 63.3,296.7 C64.6,297.1 65.9,296.3 67.1,296.2 C68.4,296.1 69.7,295.9 71.0,296.2 C72.3,296.5 73.6,297.6 74.9,298.0 C76.1,298.4 77.4,298.6 78.7,298.5 C80.0,298.4 81.3,298.1 82.6,297.5 C83.9,296.8 85.1,295.7 86.4,294.7 C87.7,293.6 89.1,292.0 90.3,291.1 C91.5,290.1 92.6,289.0 93.6,289.0 C94.7,289.0 95.6,290.3 96.7,291.1 C97.9,291.8 99.3,292.7 100.6,293.6 C101.9,294.6 103.2,295.9 104.4,296.7 C105.6,297.6 106.7,298.6 107.8,298.8 C108.8,299.0 109.7,298.8 110.9,298.0 C112.0,297.2 113.6,295.6 114.7,294.1 C115.9,292.6 117.2,290.3 117.8,289.0 C118.4,287.7 117.5,287.7 118.1,286.4 C118.7,285.1 120.3,281.7 121.4,281.3 C122.5,280.9 123.7,283.8 124.8,283.9 C125.8,283.9 126.8,282.7 127.9,281.8 C128.9,280.9 129.9,279.4 130.9,278.7 C132.0,278.0 133.2,277.0 134.3,277.4 C135.4,277.9 136.6,280.1 137.6,281.3 C138.6,282.4 139.3,284.6 140.2,284.4 C141.1,284.2 142.3,281.3 143.3,280.0 C144.2,278.7 145.0,277.1 145.9,276.7 C146.7,276.2 147.6,277.9 148.4,277.4 C149.3,276.9 150.1,275.1 151.0,273.6 C151.9,272.1 152.7,269.6 153.6,268.4 C154.4,267.2 155.3,266.4 156.1,266.4 C157.0,266.4 157.6,267.9 158.7,268.4 C159.8,269.0 161.3,269.1 162.6,269.7 C163.9,270.4 165.1,271.6 166.4,272.3 C167.7,272.9 169.0,273.3 170.3,273.6 C171.6,273.9 172.9,274.5 174.1,274.1 C175.4,273.7 176.7,272.2 178.0,271.0 C179.3,269.8 180.7,268.9 181.9,267.1 C183.0,265.4 183.9,262.7 184.9,260.7 C186.0,258.7 187.2,256.8 188.3,255.1 C189.4,253.3 190.6,251.7 191.6,250.4 C192.7,249.1 193.7,247.8 194.7,247.3 C195.7,246.9 196.7,248.0 197.8,247.9 C198.9,247.7 199.7,247.2 201.1,246.6 C202.6,246.0 205.0,244.5 206.6,244.3 C208.1,244.0 209.1,244.7 210.4,245.3 C211.7,245.9 213.0,246.1 214.3,247.9 C215.6,249.6 216.9,253.0 218.1,255.6 C219.4,258.1 220.7,261.4 222.0,263.3 C223.3,265.2 224.6,266.4 225.9,267.1 C227.1,267.9 228.4,267.7 229.7,267.9 C231.0,268.1 232.5,267.1 233.6,268.4 C234.6,269.8 235.3,272.3 236.1,276.1 C237.0,280.0 237.9,287.4 238.7,291.6 C239.6,295.8 240.4,299.4 241.3,301.3 C242.1,303.3 243.0,304.3 243.9,303.1 C244.7,301.9 245.6,298.2 246.4,294.1 C247.3,290.1 248.2,282.4 249.0,278.7 C249.8,275.1 250.2,273.1 251.1,272.3 C251.9,271.4 253.2,273.1 254.1,273.6 C255.1,274.1 256.3,275.1 256.7,275.4" stroke="#000" stroke-width="1.1" fill="none"/>
<path d="M35.6,362.3 L35.6,359.6 L37.4,358.8 L41.1,357.7 L44.9,355.1 L47.8,355.1 L49.3,352.1 L51.5,352.1 L53.0,355.1 L55.3,354.4 L56.0,350.7 L58.2,349.9 L59.7,353.6 L63.4,354.7 L67.1,354.7 L70.9,355.9 L74.6,355.9 L78.3,352.1 L82.0,348.4 L85.7,346.9 L91.3,346.2 L96.9,346.6 L102.4,347.7 L106.2,349.2 L109.9,351.4 L113.6,352.9 L119.2,353.3 L124.7,352.5 L127.3,350.3 L129.6,342.9 L132.2,336.5 L135.9,334.3 L141.4,333.6 L148.9,332.8 L150.0,332.8 L157.4,332.1 L164.9,332.1 L168.6,332.8 L171.5,336.5 L174.1,333.6 L177.9,331.7 L185.3,331.0 L190.9,331.7 L196.4,334.3 L200.1,339.1 L202.7,346.6 L204.6,353.3 L209.4,353.6 L211.3,348.4 L213.2,339.1 L216.9,333.6 L222.4,331.3 L229.9,330.2 L237.3,329.9 L244.7,330.2 L250.3,332.1 L254.8,335.4 L258.5,341.0 L261.4,348.4 L263.7,357.7 L265.2,362.5 L265.2,362.3Z" fill="#7391d2" stroke="#4463b3" stroke-width="0.6"/>
<path d="M42.0,415.5 L42.0,413.6 L52.9,401.3 L73.4,401.3 L93.4,412.6 L117.1,412.6 L118.6,410.7 L143.7,374.4 L155.1,374.4 L168.6,394.4 L172.9,382.1 L182.3,382.1 L186.3,412.6 L200.0,412.6 L202.9,410.7 L228.6,379.3 L240.6,379.3 L254.3,408.4 L260.0,408.4 L276.6,393.0 L276.6,415.5Z" fill="#7391d2" stroke="#4463b3" stroke-width="0.6"/>
<circle cx="173.0" cy="380.1" r="0.6" fill="#4463b3"/>
<circle cx="182.0" cy="380.1" r="0.6" fill="#4463b3"/>
<circle cx="229.2" cy="377.0" r="0.6" fill="#4463b3"/>
<circle cx="238.6" cy="376.8" r="0.6" fill="#4463b3"/>
<path d="M52.5,461.3 L52.9,463.5 L53.2,463.1 L53.5,465.1 L53.9,463.5 L54.2,464.1 L54.5,462.6 L54.9,466.0 L55.2,465.8 L55.6,469.0 L56.0,465.5 L56.4,468.4 L56.9,465.1 L57.3,470.4 L57.7,463.9 L58.1,469.0 L58.6,462.5 L59.0,466.2 L59.4,460.0 L59.9,463.2 L60.3,459.5 L60.7,462.6 L61.1,448.2 L61.4,446.2 L61.7,433.0 L62.1,437.8 L62.4,436.2 L62.8,440.7 L63.1,451.7 L63.5,452.4 L63.8,462.6 L64.2,457.5 L64.5,458.3 L64.8,453.6 L65.2,456.3 L65.5,453.5 L65.9,456.1 L66.3,451.0 L66.7,453.2 L67.1,448.4 L67.6,452.0 L68.0,448.8 L68.4,452.3 L68.9,451.0 L69.3,452.2 L69.7,451.0 L70.2,452.6 L70.6,452.1 L71.0,453.6 L71.5,450.8 L71.9,453.7 L72.3,451.0 L72.7,455.3 L73.2,450.7 L73.6,454.9 L74.1,450.1 L74.6,454.3 L75.1,449.7 L75.5,455.1 L75.8,452.4 L76.1,457.4 L76.5,465.6 L76.8,459.9 L77.2,467.7 L77.5,465.4 L77.9,468.7 L78.2,466.4 L78.6,473.7 L78.9,468.5 L79.2,475.4 L79.6,470.8 L79.9,473.3 L80.3,469.0 L80.6,473.6 L81.0,473.7 L81.3,478.0 L81.7,474.7 L82.2,474.6 L82.6,471.6 L83.0,475.5 L83.4,475.6 L83.9,479.3 L84.3,474.3 L84.7,474.9 L85.1,470.3 L85.6,473.6 L86.0,473.7 L86.4,476.7 L86.9,471.4 L87.3,471.3 L87.7,466.4 L88.2,470.8 L88.6,470.1 L89.0,474.1 L89.5,470.5 L89.9,472.5 L90.3,469.0 L90.7,473.2 L91.2,471.5 L91.6,475.4 L92.0,470.6 L92.4,469.6 L92.9,465.1 L93.2,468.1 L93.6,467.5 L93.9,470.3 L94.7,456.1 L95.0,461.8 L95.4,462.5 L95.7,467.7 L96.1,472.0 L96.4,468.8 L96.7,472.9 L97.2,475.7 L97.6,472.7 L98.0,475.4 L98.5,479.0 L98.9,477.2 L99.3,480.6 L99.7,474.7 L100.2,475.8 L100.6,470.3 L101.0,473.2 L101.4,472.7 L101.9,475.4 L102.3,473.7 L102.7,474.5 L103.1,472.9 L103.6,475.4 L104.0,474.3 L104.4,476.7 L104.9,474.2 L105.3,475.2 L105.7,472.9 L106.2,474.5 L106.6,473.9 L107.0,475.4 L107.5,472.6 L107.9,472.9 L108.3,470.3 L108.7,472.6 L109.2,472.0 L109.6,474.1 L110.0,472.4 L110.4,474.5 L110.9,472.9 L111.3,469.6 L111.7,469.5 L112.1,466.4 L112.6,469.4 L113.0,470.1 L113.4,472.9 L113.9,470.8 L114.3,472.3 L114.7,470.3 L115.0,469.0 L115.5,470.9 L115.9,471.1 L116.3,472.9 L116.7,471.0 L117.2,472.0 L117.6,470.3 L118.0,473.2 L118.4,472.7 L118.9,475.4 L119.3,471.9 L119.7,471.0 L120.1,467.7 L120.6,470.2 L121.0,469.2 L121.4,471.6 L121.9,468.5 L122.3,467.9 L122.7,465.1 L123.2,468.4 L123.6,467.3 L124.0,470.3 L124.5,465.9 L124.9,466.6 L125.3,462.6 L125.7,466.0 L126.2,465.9 L126.6,469.0 L127.0,465.5 L127.4,467.1 L127.9,463.9 L128.3,466.2 L128.7,465.6 L129.1,467.7 L129.6,464.4 L130.0,465.7 L130.4,462.6 L130.9,466.7 L131.3,466.5 L131.7,470.3 L132.2,465.2 L132.6,464.6 L133.0,460.0 L133.5,463.4 L133.9,461.9 L134.3,465.1 L134.7,460.4 L135.2,463.2 L135.6,458.7 L136.0,465.1 L136.4,463.0 L136.9,469.0 L137.3,464.3 L137.7,465.7 L138.1,461.3 L138.6,455.8 L139.0,457.4 L139.4,452.3 L139.9,460.4 L140.3,464.2 L140.7,471.6 L141.2,463.3 L141.6,463.8 L142.0,456.1 L142.5,460.6 L142.9,457.0 L143.3,461.3 L143.7,455.3 L144.2,459.2 L144.6,453.6 L145.0,457.7 L145.4,453.5 L145.9,457.4 L146.3,451.4 L146.7,452.7 L147.1,447.1 L147.6,451.4 L148.0,449.6 L148.4,453.6 L148.9,448.9 L149.3,452.9 L149.7,448.4 L150.2,452.5 L150.6,452.4 L151.0,456.1 L151.4,446.8 L151.7,445.4 L152.0,436.9 L152.4,445.0 L152.7,447.4 L153.1,454.9 L153.4,447.2 L153.8,445.1 L154.1,438.1 L154.5,441.6 L154.8,440.1 L155.1,443.3 L155.5,437.8 L155.8,442.1 L156.1,436.9 L156.5,444.9 L156.8,447.5 L157.2,454.9 L157.5,447.5 L157.9,446.1 L158.2,439.4 L158.6,436.2 L158.9,438.6 L159.2,435.6 L159.6,442.0 L159.9,439.8 L160.3,445.9 L160.6,440.3 L161.0,439.4 L161.3,434.3 L161.7,438.7 L162.0,436.6 L162.3,440.7 L162.7,436.3 L163.0,437.1 L163.3,433.0 L163.7,439.7 L164.0,439.6 L164.4,445.9 L164.7,438.5 L165.1,438.5 L165.4,431.7 L165.8,437.1 L166.1,435.7 L166.4,440.7 L166.9,437.3 L167.3,440.1 L167.7,436.9 L168.2,433.6 L168.6,437.4 L169.0,434.3 L169.4,441.0 L169.7,440.9 L170.0,447.1 L170.4,440.2 L170.7,443.4 L171.1,436.9 L171.4,448.1 L171.8,448.4 L172.1,458.7 L172.5,450.1 L172.8,447.2 L173.1,439.4 L173.5,443.0 L173.8,441.2 L174.1,444.6 L174.6,439.6 L175.0,440.2 L175.4,435.6 L175.9,432.9 L176.3,435.5 L176.7,433.0 L177.2,437.1 L177.6,434.3 L178.0,438.1 L178.5,436.0 L178.9,437.6 L179.3,435.6 L179.7,439.0 L180.2,437.5 L180.6,440.7 L181.0,437.7 L181.4,439.7 L181.9,436.9 L182.3,440.5 L182.7,435.9 L183.1,439.4 L183.6,443.3 L184.0,439.5 L184.4,443.3 L184.8,450.9 L185.1,449.0 L185.5,456.1 L185.8,462.2 L186.2,456.7 L186.5,462.6 L186.9,451.1 L187.2,451.3 L187.5,440.7 L187.9,448.7 L188.2,446.1 L188.5,453.6 L188.9,444.4 L189.2,446.7 L189.6,438.1 L189.9,444.0 L190.3,437.6 L190.6,443.3 L191.0,436.7 L191.3,436.5 L191.6,430.4 L192.0,426.9 L192.3,432.6 L192.7,429.1 L193.0,437.1 L193.4,435.8 L193.7,443.3 L194.1,437.5 L194.4,438.3 L194.7,433.0 L195.2,431.1 L195.6,434.9 L196.0,433.0 L196.4,435.5 L196.7,434.5 L197.1,436.9 L197.4,433.9 L197.8,434.4 L198.1,431.7 L198.5,433.8 L198.8,433.7 L199.1,435.6 L199.5,434.0 L199.8,434.4 L200.1,433.0 L200.6,433.8 L201.0,433.5 L201.4,434.3 L201.9,433.0 L202.3,432.9 L202.7,431.7 L203.2,433.4 L203.6,434.0 L204.0,435.6 L204.5,434.1 L204.9,433.8 L205.3,432.5 L205.7,433.5 L206.2,433.4 L206.6,434.3 L207.0,433.1 L207.4,432.8 L207.9,431.7 L208.3,432.6 L208.7,432.7 L209.1,433.5 L209.6,432.6 L210.0,432.6 L210.4,431.7 L210.9,433.0 L211.3,432.3 L211.7,433.5 L212.2,431.7 L212.6,432.7 L213.0,430.9 L213.5,432.2 L213.9,431.2 L214.3,432.5 L228.4,431.7 L229.2,422.7 L229.6,426.4 L229.9,424.4 L230.2,427.9 L230.6,424.4 L230.9,425.5 L231.3,422.2 L231.6,425.7 L232.0,426.0 L232.3,429.1 L232.7,426.3 L233.0,426.7 L233.3,424.0 L233.7,428.8 L234.0,429.9 L234.3,434.3 L234.7,429.9 L235.0,429.3 L235.4,425.3 L235.7,429.0 L236.1,429.6 L236.4,433.0 L236.8,429.1 L237.1,430.2 L237.4,426.6 L237.8,429.9 L238.1,427.3 L238.5,430.4 L238.8,426.5 L239.2,426.4 L239.5,422.7 L239.9,427.3 L240.2,427.5 L240.5,431.7 L240.9,429.5 L241.2,429.9 L241.5,427.9 L241.9,431.0 L242.2,431.4 L242.6,434.3 L242.9,431.9 L243.3,432.7 L243.6,430.4 L244.0,434.0 L244.3,433.6 L244.6,436.9 L245.0,432.5 L245.3,433.1 L245.7,429.1 L246.0,432.0 L246.4,431.6 L246.7,434.3 L247.1,432.6 L247.4,433.3 L247.7,431.7 L248.1,436.8 L248.4,436.0 L248.7,440.7 L249.1,437.6 L249.4,438.5 L249.8,435.6 L250.1,438.7 L250.5,439.1 L250.8,442.0 L251.2,437.6 L251.5,437.0 L251.8,433.0 L252.2,435.5 L252.5,435.9 L252.9,438.1 L253.2,435.2 L253.6,435.8 L253.9,433.0 L254.3,435.8 L254.6,434.2 L254.9,436.9 L255.3,433.7 L255.6,434.7 L255.9,431.7 L256.3,433.9 L256.6,433.6 L257.0,435.6 L257.3,433.9 L257.7,434.0 L258.0,432.5 L258.5,433.8 L258.9,432.3 L259.3,433.5 L259.7,431.8 L260.2,434.1 L260.6,432.5 L261.0,436.6 L261.4,430.2 L261.9,434.3 L262.3,439.2 L262.7,432.0 L263.1,436.9 L263.6,444.4 L264.0,436.0 L264.4,443.3 L264.9,449.5 L265.3,445.1 L265.7,451.0 L266.2,456.7 L266.6,453.4 L267.0,458.7 L267.5,467.0 L267.9,461.1 L268.3,469.0 L268.7,461.1 L269.2,468.9 L269.6,461.3 L270.0,453.4 L270.4,458.5 L270.9,451.0 L271.6,439.4 L272.0,450.3 L272.3,448.6 L272.7,458.7 L273.0,467.0 L273.4,462.5 L273.7,470.3 L274.1,464.0 L274.4,469.9 L274.7,463.9 L275.1,469.7 L275.4,467.3 L275.7,472.9 L276.5,465.1" stroke="#c00a78" stroke-width="1.4" fill="none" stroke-linejoin="round"/>
<path d="M35.1,515.1 L38.6,498.0 L42.9,515.1 L45.7,513.7 L48.6,507.4 L52.9,510.9 L57.1,513.1 L61.4,512.9 L65.7,511.7 L74.3,498.6 L80.0,512.9 L87.1,512.3 L95.7,513.1 L107.1,514.3 L107.0,514.4 L116.0,487.0 L117.8,487.8 L118.6,511.5 L128.0,485.0 L134.0,484.4 L137.1,489.4 L140.9,486.0 L145.7,486.6 L148.6,494.6 L151.4,486.0 L155.7,483.1 L161.4,482.3 L170.0,482.3 L172.3,478.0 L174.3,482.3 L178.6,485.1 L181.4,492.3 L185.7,500.9 L191.4,511.7 L194.3,506.6 L197.1,503.7 L200.0,499.4 L202.9,492.3 L207.1,483.7 L210.0,480.9 L217.1,480.9 L219.4,493.7 L222.0,481.4 L225.7,479.4 L228.6,482.3 L232.9,482.3 L237.1,486.6 L242.9,487.1 L245.1,499.4 L247.7,486.6 L251.4,481.4 L257.1,481.4 L261.4,502.3 L263.7,486.6 L264.9,502.3 L266.6,481.7 L270.6,486.6 L272.9,490.9 L275.7,492.3" stroke="#5f7fca" stroke-width="0.8" fill="none" stroke-dasharray="1,1.1"/>
<path d="M118.6,511.5L128,485" stroke="#5f7fca" stroke-width="0.7" fill="none"/>
<path d="M35.1,523.7 L35.1,520.9 L35.7,518.0 L38.6,515.1 L42.9,513.1 L47.1,512.6 L52.9,512.9 L58.6,512.9 L64.3,513.7 L70.0,515.7 L75.7,517.4 L81.4,518.9 L87.1,519.7 L92.9,519.7 L98.6,519.1 L104.3,518.6 L110.0,518.0 L110.0,518.0 L115.7,514.6 L121.4,511.7 L127.1,509.4 L132.9,507.4 L138.6,505.7 L140.9,487.4 L145.7,487.1 L150.0,486.6 L152.9,485.7 L157.1,484.3 L161.4,482.9 L167.1,482.3 L172.9,482.3 L178.6,483.7 L182.9,486.6 L187.1,490.0 L192.9,493.7 L195.7,500.3 L198.0,504.6 L200.0,505.1 L202.0,500.9 L202.0,502.3 L204.3,493.7 L207.1,485.1 L210.0,482.3 L215.7,482.3 L221.4,482.3 L228.6,482.3 L232.9,482.3 L237.1,486.6 L242.9,487.1 L247.1,486.6 L250.0,483.1 L254.3,481.7 L261.4,481.7 L267.1,481.7 L270.0,482.3 L270.6,496.6 L276.3,497.1 L276.3,523.7Z" fill="#7391d2" stroke="#4463b3" stroke-width="0.6"/>
<path d="M35.1,515.1 L38.6,498.0 L42.9,515.1 L45.7,513.7 L48.6,507.4 L52.9,510.9 L57.1,513.1 L61.4,512.9 L65.7,511.7 L74.3,498.6 L80.0,512.9 L87.1,512.3 L95.7,513.1 L107.1,514.3 L107.0,514.4 L116.0,487.0 L117.8,487.8 L118.6,511.5 L128.0,485.0 L134.0,484.4 L137.1,489.4 L140.9,486.0 L145.7,486.6 L148.6,494.6 L151.4,486.0 L155.7,483.1 L161.4,482.3 L170.0,482.3 L172.3,478.0 L174.3,482.3 L178.6,485.1 L181.4,492.3 L185.7,500.9 L191.4,511.7 L194.3,506.6 L197.1,503.7 L200.0,499.4 L202.9,492.3 L207.1,483.7 L210.0,480.9 L217.1,480.9 L219.4,493.7 L222.0,481.4 L225.7,479.4 L228.6,482.3 L232.9,482.3 L237.1,486.6 L242.9,487.1 L245.1,499.4 L247.7,486.6 L251.4,481.4 L257.1,481.4 L261.4,502.3 L263.7,486.6 L264.9,502.3 L266.6,481.7 L270.6,486.6 L272.9,490.9 L275.7,492.3" stroke="#a3b4e4" stroke-width="0.6" fill="none" stroke-dasharray="1,1.1"/>
<path d="M48.0,602.5 L50.3,601.0 L51.4,599.3 L54.3,597.6 L56.0,594.7 L58.3,593.2 L60.6,594.7 L62.3,597.6 L64.6,599.3 L65.7,601.0 L67.4,602.5Z" fill="#7391d2"/>
<path d="M48.0,602.5 L50.3,601.0 L51.4,599.3 L54.3,597.6 L56.0,594.7 L58.3,593.2 L60.6,594.7 L62.3,597.6 L64.6,599.3 L65.7,601.0 L67.4,602.5" stroke="#4463b3" stroke-width="0.8" fill="none" stroke-dasharray="2,1.5"/>
<path d="M117.1,602.0 L117.1,601.6 L125.0,601.1 L130.1,599.9 L132.7,597.7 L135.3,594.3 L138.7,589.1 L142.1,584.0 L145.6,578.0 L149.0,572.0 L151.6,566.0 L154.1,560.0 L156.7,554.0 L159.3,548.0 L161.9,542.9 L164.4,538.6 L167.0,535.1 L168.7,533.4 L171.3,532.4 L176.9,532.2 L183.7,532.2 L186.3,533.2 L188.0,534.4 L189.7,533.2 L192.3,532.2 L195.7,532.7 L198.3,534.4 L200.0,537.0 L201.7,543.9 L203.4,552.4 L205.1,561.9 L206.0,565.3 L206.9,557.6 L208.1,549.0 L209.2,545.0 L210.3,533.6 L211.2,533.0 L212.2,533.6 L213.3,547.0 L214.8,535.6 L215.8,535.0 L216.7,535.6 L218.2,552.0 L218.9,533.1 L219.8,532.5 L220.7,533.1 L221.4,545.0 L222.7,534.6 L223.6,534.0 L224.5,534.6 L225.7,550.0 L226.4,533.1 L227.3,532.5 L228.2,533.1 L228.9,544.0 L230.7,532.6 L231.6,550.5 L232.5,550.5 L234.3,551.0 L236.0,550.5 L236.9,550.5 L237.8,550.5 L239.6,551.5 L240.8,550.5 L241.8,550.5 L242.7,535.1 L243.9,546.0 L245.2,533.6 L246.1,533.0 L247.0,533.6 L248.2,549.0 L249.4,534.6 L250.3,534.0 L251.2,534.6 L252.5,547.0 L253.4,535.6 L254.3,535.0 L255.2,535.6 L256.1,544.0 L257.7,536.6 L258.6,536.0 L259.4,536.6 L261.0,541.0 L262.6,537.5 L264.3,541.0 L265.8,547.0 L267.2,554.0 L268.4,563.0 L269.2,577.0 L269.8,590.0 L270.0,602.0Z" fill="#7391d2"/>
<path d="M117.1,601.6 L125.0,601.1 L130.1,599.9 L132.7,597.7 L135.3,594.3 L138.7,589.1 L142.1,584.0 L145.6,578.0 L149.0,572.0 L151.6,566.0 L154.1,560.0 L156.7,554.0 L159.3,548.0 L161.9,542.9 L164.4,538.6 L167.0,535.1 L168.7,533.4 L171.3,532.4 L176.9,532.2 L183.7,532.2 L186.3,533.2 L188.0,534.4 L189.7,533.2 L192.3,532.2 L195.7,532.7 L198.3,534.4 L200.0,537.0 L201.7,543.9 L203.4,552.4 L205.1,561.9 L206.0,565.3 L206.9,557.6 L208.1,549.0 L209.2,545.0" stroke="#3454ac" stroke-width="0.9" fill="none" stroke-dasharray="2.2,1.6"/>
<path d="M209.2,545.0 L210.3,533.6 L211.2,533.0 L212.2,533.6 L213.3,547.0 L214.8,535.6 L215.8,535.0 L216.7,535.6 L218.2,552.0 L218.9,533.1 L219.8,532.5 L220.7,533.1 L221.4,545.0 L222.7,534.6 L223.6,534.0 L224.5,534.6 L225.7,550.0 L226.4,533.1 L227.3,532.5 L228.2,533.1 L228.9,544.0 L230.7,532.6 L231.6,532.0 L232.5,532.6 L234.3,551.0 L236.0,533.6 L236.9,533.0 L237.8,533.6 L239.6,551.5 L240.8,535.1 L241.8,534.5 L242.7,535.1 L243.9,546.0 L245.2,533.6 L246.1,533.0 L247.0,533.6 L248.2,549.0 L249.4,534.6 L250.3,534.0 L251.2,534.6 L252.5,547.0 L253.4,535.6 L254.3,535.0 L255.2,535.6 L256.1,544.0 L257.7,536.6 L258.6,536.0 L259.4,536.6 L261.0,541.0 L262.6,537.5" stroke="#3453b0" stroke-width="0.9" fill="none" stroke-linejoin="round"/>
<path d="M262.6,537.5 L264.3,541.0 L265.8,547.0 L267.2,554.0 L268.4,563.0 L269.2,577.0 L269.8,590.0 L270.0,602.0" stroke="#3454ac" stroke-width="0.9" fill="none" stroke-dasharray="2.2,1.6"/>
<path d="M36.3,647.1 C38.1,647.0 43.4,646.8 47.1,646.6 C50.8,646.4 54.8,646.1 58.6,645.7 C62.4,645.3 66.2,644.8 70.0,644.3 C73.8,643.8 77.6,643.2 81.4,642.6 C85.2,642.0 89.1,641.3 92.9,640.6 C96.7,639.9 100.5,639.1 104.3,638.3 C108.1,637.5 111.2,636.9 115.7,635.7 C120.2,634.5 126.9,632.4 131.4,630.9 C135.9,629.4 139.1,627.8 142.9,626.5 C146.7,625.2 150.5,624.0 154.3,622.9 C158.1,621.8 161.9,620.6 165.7,619.6 C169.5,618.6 173.3,617.6 177.1,616.8 C180.9,616.0 184.8,615.2 188.6,614.6 C192.4,614.0 195.9,613.6 200.0,613.0 C204.1,612.4 208.6,611.5 212.9,610.9 C217.2,610.3 221.4,609.9 225.7,609.6 C230.0,609.3 234.3,609.1 238.6,609.1 C242.9,609.1 247.1,609.2 251.4,609.4 C255.7,609.6 260.1,609.9 264.3,610.4 C268.5,610.9 274.6,611.8 276.6,612.1" stroke="#80208f" stroke-width="1.05" fill="none"/>
<path d="M36.3,673.1 C37.1,672.7 38.6,671.8 41.4,670.9 C44.2,670.0 49.1,668.7 52.9,667.7 C56.7,666.7 60.5,665.9 64.3,665.1 C68.1,664.3 71.9,663.6 75.7,662.9 C79.5,662.2 83.3,661.5 87.1,660.9 C90.9,660.3 94.8,659.6 98.6,659.1 C102.4,658.6 106.2,658.1 110.0,657.7 C113.8,657.3 117.8,657.0 121.4,656.6 C125.0,656.2 127.8,655.9 131.4,655.6 C135.0,655.3 139.1,655.0 142.9,654.9 C146.7,654.8 150.5,654.8 154.3,654.9 C158.1,655.0 161.9,655.1 165.7,655.4 C169.5,655.7 173.3,656.0 177.1,656.6 C180.9,657.2 184.8,657.9 188.6,658.8 C192.4,659.7 195.9,660.8 200.0,662.0 C204.1,663.2 208.6,664.9 212.9,666.2 C217.2,667.6 221.4,668.9 225.7,670.1 C230.0,671.3 234.3,672.3 238.6,673.4 C242.9,674.5 247.1,675.5 251.4,676.5 C255.7,677.5 260.2,678.4 264.3,679.3 C268.4,680.2 274.0,681.5 275.9,681.9" stroke="#80208f" stroke-width="1.05" fill="none"/>
<path d="M36.3,673.1 C37.1,673.5 38.6,674.8 41.4,675.7 C44.2,676.6 49.1,677.7 52.9,678.6 C56.7,679.5 60.5,680.2 64.3,680.9 C68.1,681.6 71.9,682.3 75.7,682.9 C79.5,683.5 83.3,684.0 87.1,684.6 C90.9,685.2 94.8,685.8 98.6,686.3 C102.4,686.8 106.2,687.2 110.0,687.7 C113.8,688.2 117.8,688.6 121.4,689.0 C125.0,689.4 127.8,689.7 131.4,689.9 C135.0,690.1 139.1,690.0 142.9,690.0 C146.7,690.0 150.5,689.9 154.3,689.7 C158.1,689.5 161.9,689.3 165.7,688.9 C169.5,688.5 173.3,687.9 177.1,687.4 C180.9,686.9 184.8,686.4 188.6,685.8 C192.4,685.2 195.9,684.6 200.0,683.8 C204.1,683.0 208.6,682.0 212.9,681.0 C217.2,680.0 221.4,678.8 225.7,677.8 C230.0,676.8 234.3,675.8 238.6,674.7 C242.9,673.6 247.1,672.5 251.4,671.4 C255.7,670.3 260.4,669.2 264.3,668.3 C268.2,667.3 273.3,666.1 275.1,665.7" stroke="#80208f" stroke-width="1.05" fill="none" stroke-dasharray="5,3"/>
<text x="218.7" y="623.2" font-family='"Liberation Sans","DejaVu Sans",sans-serif' font-size="10.6" fill="#781888" stroke="#781888" stroke-width="0.25" textLength="49.8" lengthAdjust="spacingAndGlyphs">Jul. 20°N</text>
<text x="106.2" y="669.3" font-family='"Liberation Sans","DejaVu Sans",sans-serif' font-size="10.6" fill="#781888" stroke="#781888" stroke-width="0.25" textLength="68.8" lengthAdjust="spacingAndGlyphs">Oct. Equator</text>
<text x="105.8" y="683.7" font-family='"Liberation Sans","DejaVu Sans",sans-serif' font-size="10.6" fill="#781888" stroke="#781888" stroke-width="0.25" textLength="69.2" lengthAdjust="spacingAndGlyphs">Apr. Equator</text>
</g>
</svg>
</body></html>
